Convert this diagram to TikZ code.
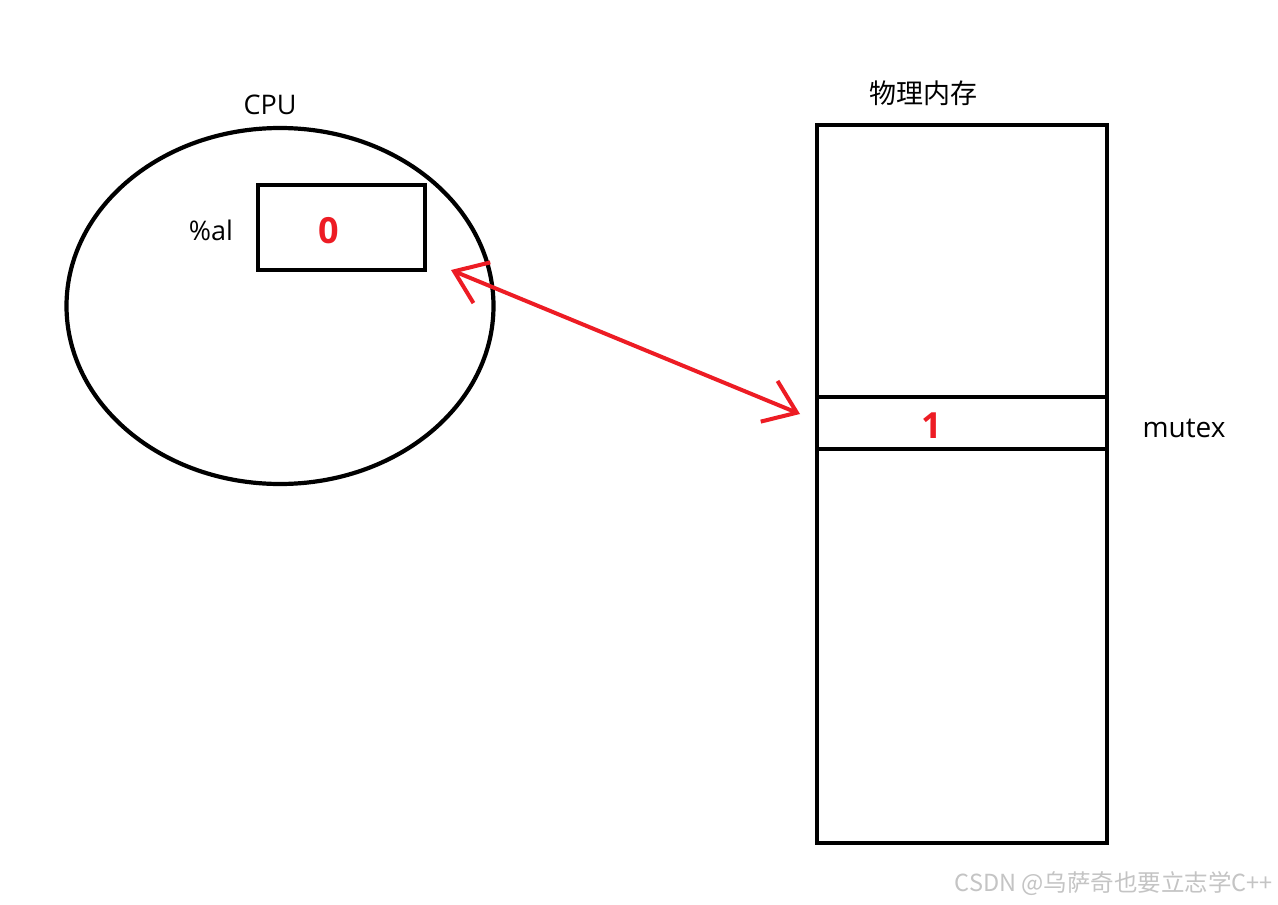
\documentclass[tikz,border=0pt]{standalone}
\usepackage{fontspec}
\setmainfont{Open Sans}
\newfontfamily\cjk{Noto Sans CJK SC}
\usetikzlibrary{arrows.meta,shapes.geometric}
\definecolor{pred}{HTML}{ED1C24}
\definecolor{wm}{HTML}{C4C4C4}
\tikzset{
  blk/.style={draw=black, line width=4.5pt, inner sep=0pt},
  lbl/.style={inner sep=0pt, text=black},
  val/.style={inner sep=0pt, text=pred, font=\fontsize{36}{40}\selectfont\bfseries},
  link/.style={draw=pred, line width=4pt, line cap=round, line join=round,
    {Straight Barb[length=30pt, width=44pt, line width=4pt]}-{Straight Barb[length=30pt, width=44pt, line width=4pt]}}
}
\begin{document}
\begin{tikzpicture}[x=1pt,y=-1pt]
\useasboundingbox[fill=white] (0,0) rectangle (1278,905);
% CPU
\node[blk, ellipse, line width=4.2pt, minimum width=427pt, minimum height=356pt] (cpu) at (280,306) {};
\node[lbl, font=\fontsize{27}{30}\selectfont] (cpul) at (270,105) {CPU};
\node[blk, minimum width=167pt, minimum height=85pt] (reg) at (341.5,227.5) {};
\node[lbl, font=\fontsize{27}{30}\selectfont] (al) at (211,230) {\%al};
\node[val] (zero) at (329,231) {0};
% memory
\node[blk, minimum width=290pt, minimum height=272pt] (memtop) at (962,261) {};
\node[blk, minimum width=290pt, minimum height=52pt] (slot) at (962,423) {};
\node[blk, minimum width=290pt, minimum height=394pt] (membot) at (962,646) {};
\node[lbl, font=\cjk\fontsize{27}{30}\selectfont] (meml) at (923,93) {物理内存};
\node[val] (one) at (932,426) {1};
\node[lbl, font=\fontsize{28}{30}\selectfont] (mutex) at (1184,428) {mutex};
% arrow
\coordinate (pa) at (451,270);
\coordinate (pb) at (800,414);
\draw[link] (pa) -- (pb);
% watermark
\node[lbl, anchor=east, text=wm, font=\cjk\fontsize{23.5}{26}\selectfont] (wmk) at (1273,884) {CSDN @乌萨奇也要立志学C++};
\end{tikzpicture}
\end{document}
